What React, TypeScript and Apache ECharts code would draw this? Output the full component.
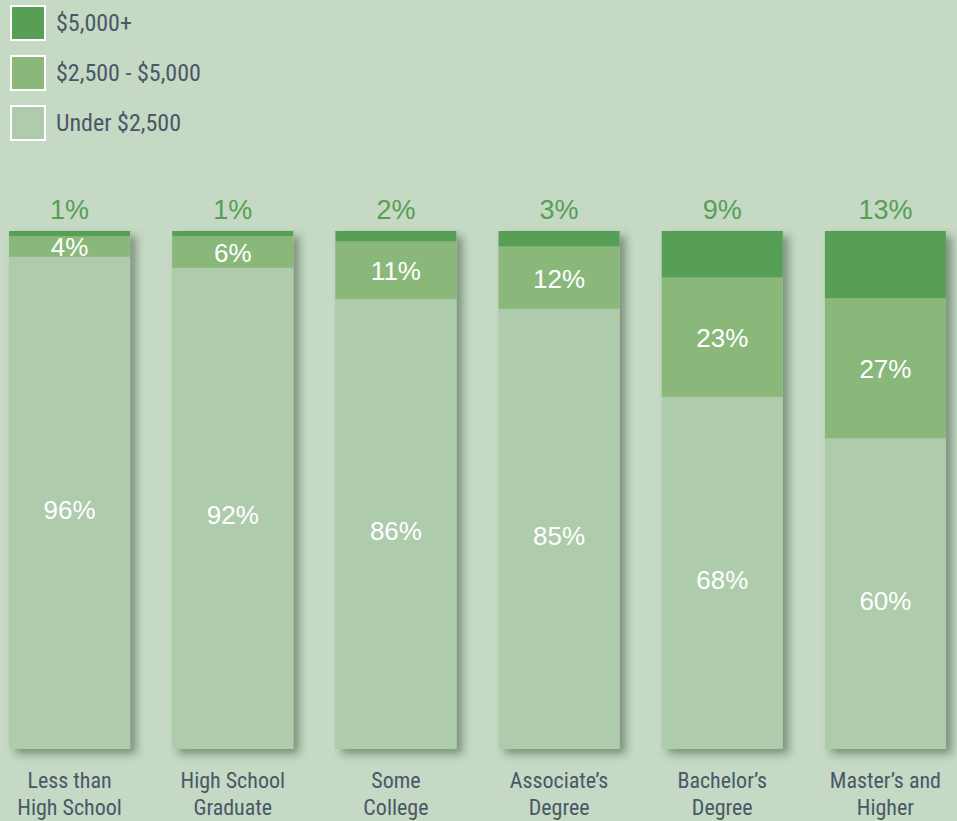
import React, { useEffect, useRef } from "react";
import * as echarts from "echarts";

const categories = [
  "Less than\nHigh School",
  "High School\nGraduate",
  "Some\nCollege",
  "Associate’s\nDegree",
  "Bachelor’s\nDegree",
  "Master’s and\nHigher",
];
const seriesNames = ["$5,000+", "$2,500 - $5,000", "Under $2,500"];
const over5000 = [1, 1, 2, 3, 9, 13];
const mid2500to5000 = [4, 6, 11, 12, 23, 27];
const under2500 = [96, 92, 86, 85, 68, 60];

const COND = "'Liberation Sans Narrow', 'Roboto Condensed', 'Arial Narrow', 'Liberation Sans', sans-serif";
const SANS = "'Liberation Sans', Arial, sans-serif";

export default function App() {
  const ref = useRef<HTMLDivElement>(null);
  useEffect(() => {
    if (!ref.current) return;
    const chart = echarts.init(ref.current, undefined, { renderer: "svg" });
    const totals = categories.map((_, i) => over5000[i] + mid2500to5000[i] + under2500[i]);
    const norm = (arr: number[]) => arr.map((v, i) => (v / totals[i]) * 100);
    const bg = categories.map(() => 100);
    const common = {
      type: "bar" as const,
      stack: "total",
      barWidth: 121,
      barGap: "-100%",
    };
    chart.setOption({
      animation: false,
      backgroundColor: "#c5d9c5",
      grid: { left: 0, right: 0, top: 231, bottom: 70 },
      legend: {
        data: seriesNames,
        orient: "vertical",
        left: 22,
        top: 5,
        padding: 0,
        itemWidth: 34,
        itemHeight: 34,
        itemGap: 14,
        icon: "rect",
        itemStyle: { borderColor: "#ffffff", borderWidth: 2 },
        textStyle: { fontSize: 24, color: "#4a5866", fontFamily: COND, padding: [0, 0, 0, 6] },
      },
      xAxis: {
        type: "category",
        data: categories,
        axisLine: { show: false },
        axisTick: { show: false },
        axisLabel: {
          fontSize: 22,
          color: "#4a5866",
          fontFamily: COND,
          lineHeight: 27,
          margin: 18,
          interval: 0,
        },
      },
      yAxis: { type: "value", min: 0, max: 100, show: false },
      series: [
        {
          name: "shadow",
          type: "bar",
          stack: "bg",
          barWidth: 121,
          barGap: "-100%",
          data: bg,
          silent: true,
          itemStyle: {
            color: "#aecbab",
            shadowColor: "rgba(40,60,40,0.45)",
            shadowBlur: 8,
            shadowOffsetX: 6,
            shadowOffsetY: 5,
          },
        },
        {
          ...common,
          name: seriesNames[2],
          data: norm(under2500),
          itemStyle: { color: "#aecbab" },
          label: {
            show: true,
            position: "inside",
            offset: [0, 7],
            color: "#ffffff",
            fontSize: 26,
            fontFamily: SANS,
            formatter: (p: any) => under2500[p.dataIndex] + "%",
          },
        },
        {
          ...common,
          name: seriesNames[1],
          data: norm(mid2500to5000),
          itemStyle: { color: "#8ab87a" },
          label: {
            show: true,
            position: "inside",
            offset: [0, 1],
            color: "#ffffff",
            fontSize: 26,
            fontFamily: SANS,
            formatter: (p: any) => mid2500to5000[p.dataIndex] + "%",
          },
        },
        {
          ...common,
          name: seriesNames[0],
          data: norm(over5000),
          itemStyle: { color: "#569f55" },
          label: {
            show: true,
            position: "top",
            distance: 8,
            color: "#569f55",
            fontSize: 27,
            fontFamily: SANS,
            formatter: (p: any) => over5000[p.dataIndex] + "%",
          },
        },
      ],
    });
    return () => chart.dispose();
  }, []);
  return (
    <div
      ref={ref}
      style={{ position: "fixed", left: -12, top: 0, width: 979, height: 821 }}
    />
  );
}
